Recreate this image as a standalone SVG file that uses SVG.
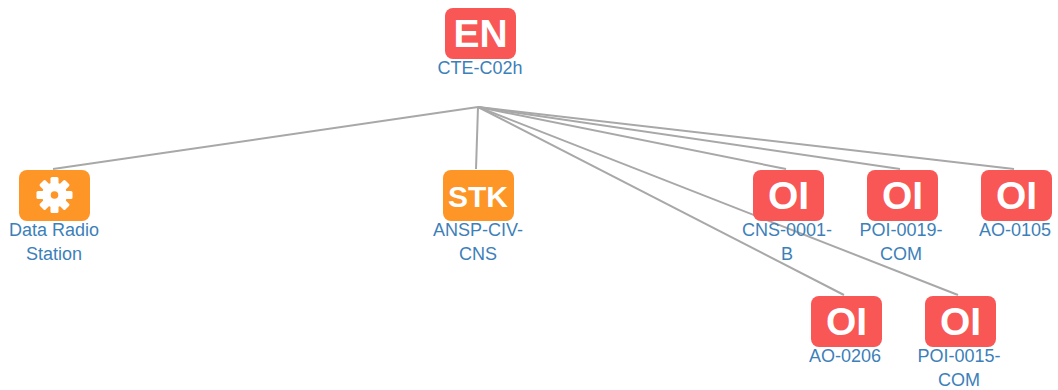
<svg xmlns="http://www.w3.org/2000/svg" width="1058" height="390" viewBox="0 0 1058 390">
<style>
.e{stroke:#a8a8a8;stroke-width:2;fill:none}
.r{fill:#f95656}
.o{fill:#fe9527}
.t{font-family:"Liberation Sans",Arial,sans-serif;font-weight:700;fill:#fff;text-anchor:middle}
.l{font-family:"Liberation Sans",Arial,sans-serif;font-size:18px;fill:#3d7fb9;text-anchor:middle}
.w{fill:#fff}
</style>
<defs>
<g id="oi"><rect class="r" x="0" y="0" width="71" height="51" rx="8"/><text class="t" x="35.5" y="39" font-size="39">OI</text></g>
<rect id="tooth" class="w" x="-4" y="-18" width="8" height="9" rx="1.500"/>
</defs>
<g id="connectors">
<path class="e" d="M478 107L53 169"/>
<path class="e" d="M478 107L476 169"/>
<path class="e" d="M478 107L786 169"/>
<path class="e" d="M478 107L900 169"/>
<path class="e" d="M478 107L1014 169"/>
<path class="e" d="M478 107L844 295"/>
<path class="e" d="M478 107L958 295"/>
</g>
<g id="node-en"><rect class="r" x="445" y="8" width="71" height="51" rx="8"/><text class="t" x="480.500" y="47" font-size="39">EN</text><text class="l" x="480" y="74">CTE-C02h</text></g>
<g id="node-drs"><rect class="o" x="19" y="170" width="71" height="51" rx="8"/>
<g transform="translate(54.500 195)"><circle class="w" r="12.500"/><use href="#tooth"/><use href="#tooth" transform="rotate(45)"/><use href="#tooth" transform="rotate(90)"/><use href="#tooth" transform="rotate(135)"/><use href="#tooth" transform="rotate(180)"/><use href="#tooth" transform="rotate(225)"/><use href="#tooth" transform="rotate(270)"/><use href="#tooth" transform="rotate(315)"/><circle class="o" r="3.800"/></g>
<text class="l"><tspan x="54" y="236">Data Radio</tspan><tspan x="54" y="260">Station</tspan></text></g>
<g id="node-stk"><rect class="o" x="443" y="170" width="71" height="51" rx="8"/><text class="t" x="478" y="206.500" font-size="30">STK</text><text class="l"><tspan x="478" y="236">ANSP-CIV-</tspan><tspan x="478" y="260">CNS</tspan></text></g>
<g id="node-cns"><use href="#oi" x="753" y="170"/><text class="l"><tspan x="787" y="236">CNS-0001-</tspan><tspan x="787" y="260">B</tspan></text></g>
<g id="node-poi19"><use href="#oi" x="867" y="170"/><text class="l"><tspan x="901" y="236">POI-0019-</tspan><tspan x="901" y="260">COM</tspan></text></g>
<g id="node-ao105"><use href="#oi" x="981" y="170"/><text class="l" x="1015" y="236">AO-0105</text></g>
<g id="node-ao206"><use href="#oi" x="811" y="296"/><text class="l" x="845" y="362">AO-0206</text></g>
<g id="node-poi15"><use href="#oi" x="925" y="296"/><text class="l"><tspan x="959" y="362">POI-0015-</tspan><tspan x="959" y="386">COM</tspan></text></g>
</svg>
